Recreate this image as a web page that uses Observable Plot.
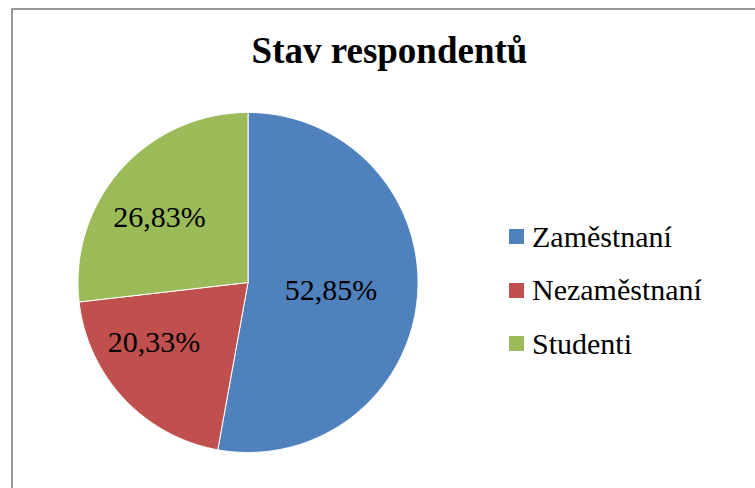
<!DOCTYPE html>
<html>
<head>
<meta charset="utf-8">
<script src="https://cdn.jsdelivr.net/npm/d3@7"></script>
<script src="https://cdn.jsdelivr.net/npm/@observablehq/plot@0.6"></script>
<style>
  html, body { margin: 0; padding: 0; background: #fff; }
  #wrap { position: relative; width: 755px; height: 488px; overflow: hidden; background: #fff; }
  #frame { position: absolute; left: 11px; top: 8px; width: 800px; height: 520px; border: 2px solid #999; box-sizing: border-box; }
  #title { position: absolute; left: 0; top: 32px; width: 779px; text-align: center;
           font-family: "Liberation Serif", "Times New Roman", serif; font-weight: bold; font-size: 37px; line-height: 37px; color: #000; }
  #chart { position: absolute; left: 0; top: 0; }
  #chart text { font-family: "Liberation Serif", "Times New Roman", serif !important; }
  #legend { position: absolute; left: 509px; top: 210px; width: 240px; }
  #legend, #legend * { font-family: "Liberation Serif", "Times New Roman", serif !important; }
  .lg-swatch { height: 53.5px; padding-bottom: 0 !important; }
  .lg-swatch > svg { margin-right: 8px !important; }
</style>
</head>
<body>
<div id="wrap">
  <div id="frame"></div>
  <div id="chart"></div>
  <div id="title">Stav respondentů</div>
  <div id="legend"></div>
</div>
<script>
// Data
const categories = ["Zaměstnaní", "Nezaměstnaní", "Studenti"];
const values = [52.85, 20.33, 26.83];
const colors = ["#4F81BD", "#C0504D", "#9BBB59"];

// Layout config for data labels (radius as fraction of pie radius, angle nudge in degrees)
const labelRadius = [0.49, 0.654, 0.648];
const labelAngleNudge = [0, 10.8, -5.2];

const serif = '"Liberation Serif", "Times New Roman", serif';

const rows = categories.map((name, i) => ({name, value: values[i]}));
const arcs = d3.pie().sort(null).value(d => d.value)(rows);

// Slice polygons in unit-circle coordinates (angle clockwise from 12 o'clock)
const slicePts = [];
arcs.forEach(a => {
  const name = a.data.name;
  slicePts.push({name, x: 0, y: 0});
  const steps = Math.max(2, Math.ceil((a.endAngle - a.startAngle) / (Math.PI / 360)));
  for (let k = 0; k <= steps; k++) {
    const t = a.startAngle + (a.endAngle - a.startAngle) * k / steps;
    slicePts.push({name, x: Math.sin(t), y: Math.cos(t)});
  }
  slicePts.push({name, x: 0, y: 0});
});

const labels = arcs.map((a, i) => {
  const mid = (a.startAngle + a.endAngle) / 2 + labelAngleNudge[i] * Math.PI / 180;
  const r = labelRadius[i];
  return {
    name: a.data.name,
    x: r * Math.sin(mid),
    y: r * Math.cos(mid),
    text: a.data.value.toFixed(2).replace(".", ",") + "%"
  };
});

const cx = 247.5, cy = 282, R = 170;

const chart = Plot.plot({
  width: 755,
  height: 488,
  margin: 0,
  x: {domain: [-1, 1], range: [cx - R, cx + R], axis: null},
  y: {domain: [-1, 1], range: [cy + R, cy - R], axis: null},
  color: {domain: categories, range: colors},
  style: {background: "transparent", overflow: "visible", fontFamily: serif},
  marks: [
    Plot.line(slicePts, {x: "x", y: "y", z: "name", fill: "name", stroke: "white", strokeWidth: 1, strokeLinejoin: "round"}),
    Plot.text(labels, {x: "x", y: "y", text: "text", fontSize: 30, fontFamily: serif, fill: "black"})
  ]
});
document.getElementById("chart").appendChild(chart);

const legend = Plot.legend({
  color: {type: "ordinal", domain: categories, range: colors},
  legend: "swatches",
  columns: 1,
  swatchSize: 15,
  className: "lg",
  style: {fontFamily: serif, fontSize: "30px", color: "#000", margin: 0}
});
document.getElementById("legend").appendChild(legend);
</script>
</body>
</html>
